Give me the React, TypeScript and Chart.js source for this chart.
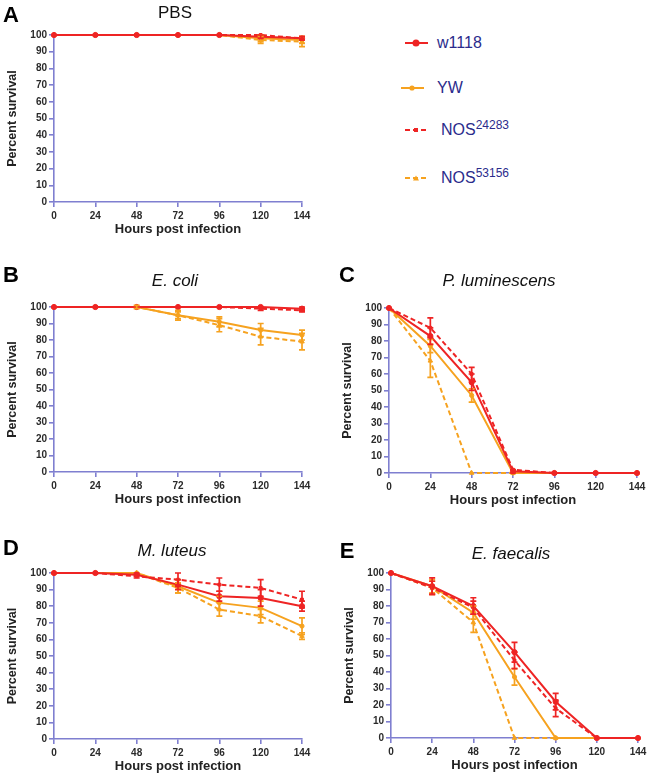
import React, { useEffect, useRef } from "react";
import { Chart, registerables } from "chart.js";
Chart.register(...registerables);

// ---- data ----
const hours = [0, 24, 48, 72, 96, 120, 144];
const strainNames = ["w1118", "YW", "NOS", "NOS"];
const strainSups = ["", "", "24283", "53156"];

// A: PBS
const pbsW1118 = [100, 100, 100, 100, 100, 99, 98];
const pbsW1118Err = [0, 0, 0, 0, 0, 1, 1];
const pbsYW = [100, 100, 100, 100, 100, 98, 97];
const pbsYWErr = [0, 0, 0, 0, 0, 2, 2];
const pbsNos24283 = [100, 100, 100, 100, 100, 100, 98];
const pbsNos24283Err = [0, 0, 0, 0, 0, 0, 1];
const pbsNos53156 = [100, 100, 100, 100, 100, 97, 96];
const pbsNos53156Err = [0, 0, 0, 0, 0, 2, 3];

// B: E. coli
const ecW1118 = [100, 100, 100, 100, 100, 100, 99];
const ecW1118Err = [0, 0, 0, 0, 0, 0, 1];
const ecYW = [100, 100, 100, 95, 91, 86, 83];
const ecYWErr = [0, 0, 0, 2, 3, 4, 3];
const ecNos24283 = [100, 100, 100, 100, 100, 99, 98];
const ecNos24283Err = [0, 0, 0, 0, 0, 1, 1];
const ecNos53156 = [100, 100, 100, 95, 89, 82, 79];
const ecNos53156Err = [0, 0, 1, 3, 4, 5, 5];

// C: P. luminescens
const plW1118 = [100, 83, 55, 1, 0, 0, 0];
const plW1118Err = [0, 5, 5, 1, 0, 0, 0];
const plYW = [100, 77, 47, 0, 0, 0, 0];
const plYWErr = [0, 4, 4, 0, 0, 0, 0];
const plNos24283 = [100, 88, 60, 2, 0, 0, 0];
const plNos24283Err = [0, 6, 4, 0, 0, 0, 0];
const plNos53156 = [100, 68, 0, 0, 0, 0, 0];
const plNos53156Err = [0, 10, 0, 0, 0, 0, 0];

// D: M. luteus
const mlW1118 = [100, 100, 99, 93, 86, 85, 80];
const mlW1118Err = [0, 0, 1, 3, 3, 5, 3];
const mlYW = [100, 100, 100, 92, 82, 79, 68];
const mlYWErr = [0, 0, 0, 4, 4, 4, 5];
const mlNos24283 = [100, 100, 98, 96, 93, 91, 84];
const mlNos24283Err = [0, 0, 1, 4, 4, 5, 5];
const mlNos53156 = [100, 100, 100, 91, 78, 74, 62];
const mlNos53156Err = [0, 0, 0, 3, 4, 4, 2];

// E: E. faecalis
const efW1118 = [100, 92, 80, 52, 22, 0, 0];
const efW1118Err = [0, 5, 5, 6, 5, 0, 0];
const efYW = [100, 92, 76, 37, 0, 0, 0];
const efYWErr = [0, 4, 4, 5, 0, 0, 0];
const efNos24283 = [100, 91, 79, 47, 18, 0, 0];
const efNos24283Err = [0, 4, 4, 5, 5, 0, 0];
const efNos53156 = [100, 91, 70, 0, 0, 0, 0];
const efNos53156Err = [0, 4, 6, 0, 0, 0, 0];

// ---- styles ----
const RED = "#ee2424";
const ORANGE = "#f6a21f";
const AXIS = "#7f7fd0";
const TXT = "#2a2a2a";
const FONT = "'Liberation Sans', Arial, sans-serif";

const strainStyles = [
  { color: RED, dash: [], point: "circle", radius: 2.6 },
  { color: ORANGE, dash: [], point: "circle", radius: 2.1 },
  { color: RED, dash: [5, 3], point: "rect", radius: 2 },
  { color: ORANGE, dash: [5, 3], point: "triangle", radius: 2.6 },
];

const panels = [
  { letter: "A", title: "PBS", italic: false, L: 54, T: 35, R: 302, B: 202, lx: 11, ly: 15, tx: 175, ty: 12,
    series: [pbsW1118, pbsYW, pbsNos24283, pbsNos53156], errs: [pbsW1118Err, pbsYWErr, pbsNos24283Err, pbsNos53156Err] },
  { letter: "B", title: "E. coli", italic: true, L: 54, T: 307, R: 302, B: 472, lx: 11, ly: 275, tx: 175, ty: 280,
    series: [ecW1118, ecYW, ecNos24283, ecNos53156], errs: [ecW1118Err, ecYWErr, ecNos24283Err, ecNos53156Err] },
  { letter: "C", title: "P. luminescens", italic: true, L: 389, T: 308, R: 637, B: 473, lx: 347, ly: 275, tx: 499, ty: 280,
    series: [plW1118, plYW, plNos24283, plNos53156], errs: [plW1118Err, plYWErr, plNos24283Err, plNos53156Err] },
  { letter: "D", title: "M. luteus", italic: true, L: 54, T: 573, R: 302, B: 739, lx: 11, ly: 548, tx: 172, ty: 550,
    series: [mlW1118, mlYW, mlNos24283, mlNos53156], errs: [mlW1118Err, mlYWErr, mlNos24283Err, mlNos53156Err] },
  { letter: "E", title: "E. faecalis", italic: true, L: 391, T: 573, R: 638, B: 738, lx: 347, ly: 551, tx: 511, ty: 553,
    series: [efW1118, efYW, efNos24283, efNos53156], errs: [efW1118Err, efYWErr, efNos24283Err, efNos53156Err] },
];

const errorBarPlugin = {
  id: "errorBars",
  afterDatasetsDraw(chart: any) {
    const { ctx, scales } = chart;
    const xs = scales.x;
    const ys = scales.y;
    const n = chart.data.datasets.length;
    for (let i = n - 1; i >= 0; i--) {
      const ds: any = chart.data.datasets[i];
      const errs = ds.errors;
      if (!errs) continue;
      ctx.save();
      ctx.strokeStyle = ds.borderColor;
      ctx.lineWidth = 1.7;
      ctx.setLineDash([]);
      ds.data.forEach((p: any, j: number) => {
        const e = errs[j];
        if (!e) return;
        const x = xs.getPixelForValue(p.x);
        const y1 = ys.getPixelForValue(p.y + e);
        const y2 = ys.getPixelForValue(p.y - e);
        ctx.beginPath();
        ctx.moveTo(x, y1);
        ctx.lineTo(x, y2);
        ctx.moveTo(x - 3, y1);
        ctx.lineTo(x + 3, y1);
        ctx.moveTo(x - 3, y2);
        ctx.lineTo(x + 3, y2);
        ctx.stroke();
      });
      ctx.restore();
    }
  },
};

const PAD_L = 54, PAD_T = 35, PAD_R = 18, PAD_B = 45;

function Panel({ p }: { p: any }) {
  const ref = useRef<HTMLCanvasElement>(null);
  const w = p.R - p.L + PAD_L + PAD_R;
  const h = p.B - p.T + PAD_T + PAD_B;
  useEffect(() => {
    const order = [0, 2, 1, 3];
    const datasets = order.map((k) => {
      const st = strainStyles[k];
      return {
        label: strainNames[k] + strainSups[k],
        data: hours.map((x, i) => ({ x, y: p.series[k][i] })),
        errors: p.errs[k],
        borderColor: st.color,
        backgroundColor: st.color,
        borderDash: st.dash,
        borderWidth: 2,
        pointStyle: st.point,
        pointRadius: st.radius,
        pointBorderWidth: 1,
        tension: 0,
        clip: false,
      };
    });
    const axisBase = {
      type: "linear",
      border: { display: true, color: AXIS, width: 1.6 },
      grid: { display: true, drawOnChartArea: false, drawTicks: true, tickLength: 5, color: AXIS, lineWidth: 1.6 },
    };
    const chart = new Chart(ref.current as HTMLCanvasElement, {
      type: "line",
      data: { datasets } as any,
      plugins: [errorBarPlugin],
      options: {
        animation: false,
        responsive: false,
        layout: { padding: { left: 4, top: PAD_T, right: PAD_R, bottom: 4 } },
        plugins: { legend: { display: false }, tooltip: { enabled: false }, title: { display: false } },
        scales: {
          x: {
            ...axisBase,
            min: 0,
            max: 144,
            ticks: { stepSize: 24, padding: 3, color: TXT, font: { family: FONT, size: 10, weight: "bold" }, maxRotation: 0 },
            title: { display: true, text: "Hours post infection", color: "#222", font: { family: FONT, size: 13, weight: "bold" }, padding: { top: 0, bottom: 6 } },
            afterFit: (s: any) => { s.height = PAD_B - 4; },
          },
          y: {
            ...axisBase,
            min: 0,
            max: 100,
            ticks: { stepSize: 10, padding: 2, color: TXT, font: { family: FONT, size: 10, weight: "bold" } },
            title: { display: true, text: "Percent survival", color: "#222", font: { family: FONT, size: 12.5, weight: "bold" }, padding: { top: 1, bottom: 0 } },
            afterFit: (s: any) => { s.width = PAD_L - 4; },
          },
        } as any,
      },
    } as any);
    return () => chart.destroy();
  }, []);
  return (
    <canvas
      ref={ref}
      width={w}
      height={h}
      style={{ position: "absolute", left: p.L - PAD_L, top: p.T - PAD_T, width: w, height: h }}
    />
  );
}

function LegendMark({ k }: { k: number }) {
  const st = strainStyles[k];
  const dashed = st.dash.length > 0;
  let marker: any;
  if (st.point === "circle") marker = <circle cx={12} cy={5} r={k === 0 ? 3.5 : 2.6} fill={st.color} />;
  else if (st.point === "rect") marker = <rect x={10} y={3} width={4} height={4} fill={st.color} />;
  else marker = <polygon points="9,7.5 15,7.5 12,2.5" fill={st.color} />;
  return (
    <svg width={26} height={10} style={{ position: "absolute", left: 0, top: -5 }}>
      <line x1={1} y1={5} x2={24} y2={5} stroke={st.color} strokeWidth={2} strokeDasharray={dashed ? "5 3" : undefined} />
      {marker}
    </svg>
  );
}

const legendRows = [
  { k: 0, y: 43, mx: 404, tx: 437 },
  { k: 1, y: 88, mx: 400, tx: 437 },
  { k: 2, y: 130, mx: 404, tx: 441 },
  { k: 3, y: 178, mx: 404, tx: 441 },
];

export default function App() {
  return (
    <div style={{ position: "absolute", left: 0, top: 0, width: 650, height: 779, background: "#fff", overflow: "hidden", fontFamily: FONT }}>
      {panels.map((p, i) => (
        <React.Fragment key={i}>
          <Panel p={p} />
          <div style={{ position: "absolute", left: p.lx, top: p.ly, transform: "translate(-50%,-50%)", fontSize: 22, fontWeight: "bold", color: "#000", lineHeight: 1 }}>
            {p.letter}
          </div>
          <div style={{ position: "absolute", left: p.tx, top: p.ty, transform: "translate(-50%,-50%)", fontSize: 17, fontStyle: p.italic ? "italic" : "normal", color: "#111", whiteSpace: "nowrap", lineHeight: 1 }}>
            {p.title}
          </div>
        </React.Fragment>
      ))}
      {legendRows.map((r) => (
        <React.Fragment key={r.k}>
          <div style={{ position: "absolute", left: r.mx, top: r.y, width: 26, height: 0 }}>
            <LegendMark k={r.k} />
          </div>
          <div style={{ position: "absolute", left: r.tx, top: r.y, transform: "translateY(-50%)", fontSize: 16, color: "#2b2b8c", whiteSpace: "nowrap", lineHeight: 1 }}>
            {strainNames[r.k]}
            {strainSups[r.k] ? <sup style={{ fontSize: 12, verticalAlign: "6px", lineHeight: 0 }}>{strainSups[r.k]}</sup> : null}
          </div>
        </React.Fragment>
      ))}
    </div>
  );
}
